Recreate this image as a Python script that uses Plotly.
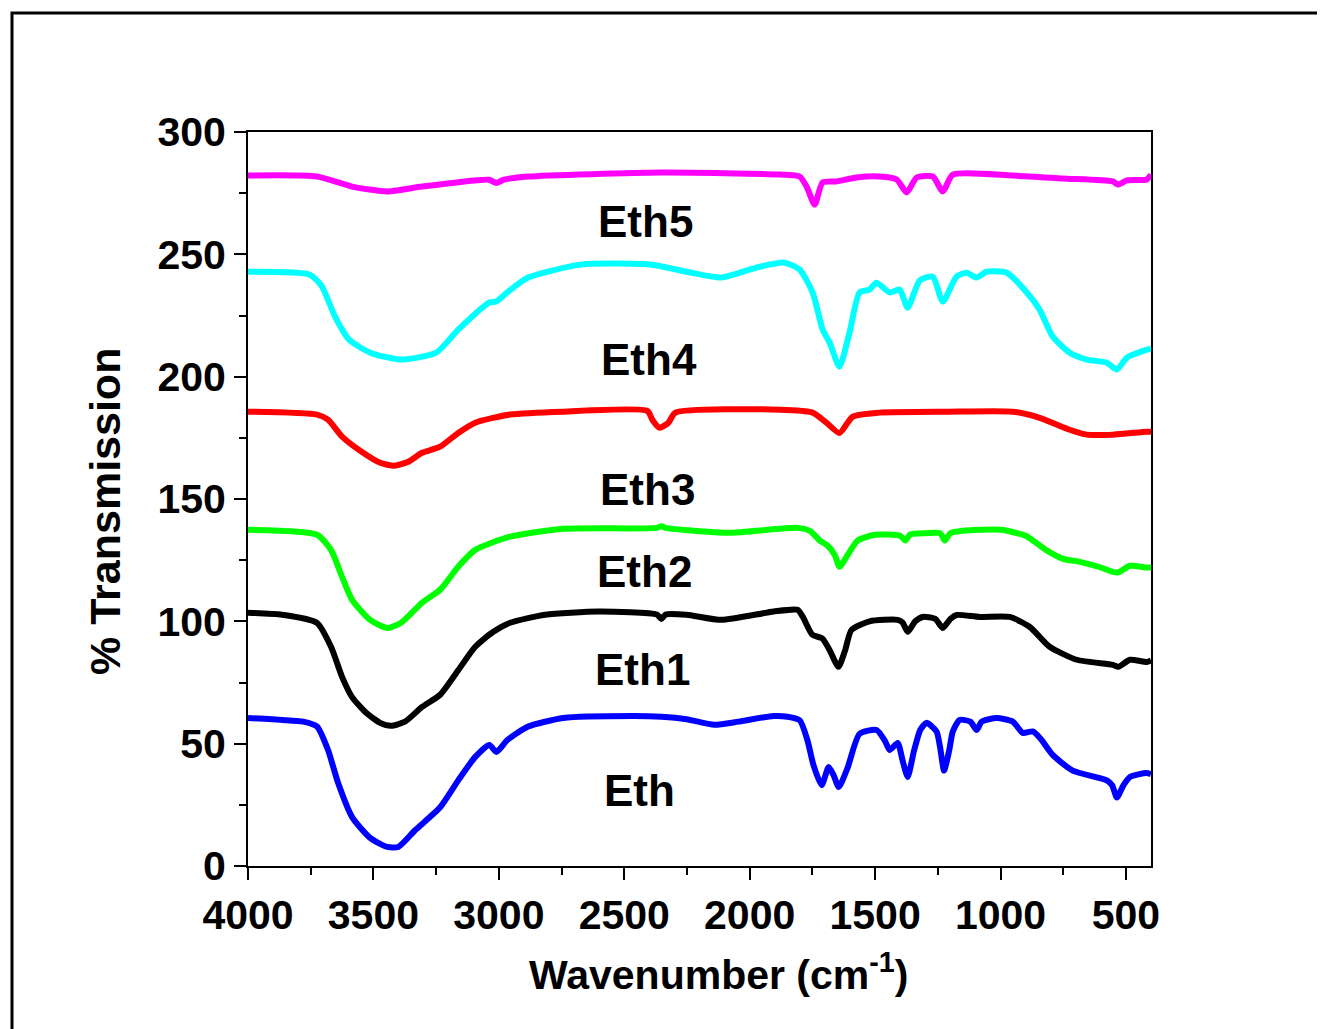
import plotly.graph_objects as go

# ---------------- data ----------------
wn_eth = [4000, 3864, 3780, 3725, 3681, 3641, 3585, 3513, 3445, 3401, 3333, 3234, 3162, 3094, 3038, 3010, 2966, 2883,
          2743, 2464, 2352, 2252, 2141, 2045, 1905, 1849, 1800, 1770, 1745, 1713, 1685, 1665, 1645, 1610, 1562, 1494,
          1460, 1442, 1410, 1390, 1370, 1345, 1320, 1295, 1255, 1240, 1225, 1205, 1190, 1163, 1120, 1095, 1075, 1015,
          951, 911, 871, 840, 792, 712, 576, 555, 536, 510, 484, 417, 400]
t_eth = [60.5, 59.7, 59, 57, 47.4, 34, 20, 11.5, 7.8, 7.8, 14.7, 24, 35, 44.6, 49.5, 46.6, 51.5, 57,
         60.5, 61.3, 61, 60, 57.7, 59, 61.3, 61, 59.5, 51.5, 41, 33, 40.5, 37, 32.3, 40, 54, 55.6,
         51, 47.4, 50.3, 43, 36.4, 47, 55.6, 58.5, 55, 48, 39, 47, 55, 59.7, 59, 55.6, 59, 60.5,
         59, 54.4, 55, 52, 45.4, 39, 35, 33, 28, 33, 36.4, 38, 37.5]

wn_eth1 = [4000, 3864, 3725, 3669, 3625, 3585, 3529, 3473, 3430, 3374, 3306, 3234, 3162, 3094, 3022, 2955, 2815, 2603,
           2370, 2352, 2335, 2252, 2113, 1905, 1809, 1789, 1750, 1710, 1680, 1646, 1620, 1594, 1522, 1410, 1390, 1370,
           1340, 1310, 1260, 1230, 1200, 1175, 1083, 963, 883, 804, 696, 552, 530, 484, 417, 400]
t_eth1 = [103.5, 102.7, 99.4, 89.6, 77.3, 69, 62.6, 58.5, 57.3, 59, 65, 70, 80, 89.6, 95.7, 99.4, 102.7, 104,
          102.8, 101, 102.8, 102.7, 100.6, 104, 104.7, 102, 94.5, 93, 88, 81.4, 88, 96.5, 100, 100.6, 99.5, 95.7,
          100, 101.8, 101, 97.3, 101, 102.6, 101.8, 101.8, 97.7, 89.6, 84.3, 82.2, 81.4, 84.3, 83.4, 84]

wn_eth2 = [4000, 3725, 3669, 3625, 3585, 3513, 3445, 3390, 3306, 3234, 3162, 3094, 2955, 2743, 2370, 2352, 2335, 2086,
           1809, 1760, 1720, 1690, 1660, 1642, 1610, 1570, 1500, 1400, 1380, 1360, 1300, 1240, 1222, 1200, 1150, 1000,
           900, 816, 750, 684, 600, 552, 530, 484, 417, 400]
t_eth2 = [137.4, 135.4, 129.2, 118.2, 108.8, 100.6, 97.3, 99.4, 107.6, 112.9, 122.3, 129.2, 134.6, 137.8, 138.2, 138.9,
          138.2, 136.2, 138.2, 137, 133, 131, 127, 122.3, 127, 133, 135.4, 135, 133, 135.5, 136, 136, 133, 136, 137,
          137.4, 135, 129, 125.5, 124.3, 122, 120.2, 120, 122.7, 122, 122]

wn_eth3 = [4000, 3725, 3681, 3625, 3541, 3473, 3417, 3361, 3306, 3234, 3162, 3094, 2955, 2743, 2408, 2388, 2360, 2324,
           2296, 1880, 1749, 1694, 1642, 1590, 1482, 1215, 951, 844, 724, 656, 552, 417, 400]
t_eth3 = [185.7, 184.5, 182.4, 175.5, 168.9, 164.8, 163.6, 165.2, 168.9, 171.4, 177, 181.2, 184.5, 185.7, 186, 182.4,
          179.1, 181.2, 185.3, 186.5, 185.3, 181.2, 177, 183.6, 185.3, 185.7, 185.7, 183.2, 178.3, 176.3, 176.3,
          177.5, 177.5]

wn_eth4 = [4000, 3753, 3705, 3653, 3597, 3513, 3390, 3250, 3162, 3038, 3010, 2960, 2883, 2675, 2396, 2252, 2113, 1973,
           1861, 1801, 1749, 1709, 1681, 1642, 1602, 1562, 1522, 1494, 1442, 1402, 1370, 1322, 1270, 1230, 1175, 1135,
           1095, 1055, 975, 895, 844, 792, 724, 656, 576, 536, 496, 417, 400]
t_eth4 = [242.9, 241.7, 236.8, 224.5, 215.1, 209.8, 207, 209.8, 219.2, 230.3, 230.7, 235, 240.5, 245.8, 245.8, 242.9,
          240.5, 244.6, 246.6, 243.8, 234.4, 219.2, 213.9, 204.1, 218, 234.4, 235.6, 238.4, 234.4, 235.6, 228.2,
          239.3, 240.9, 230.7, 240.9, 242.5, 240.5, 242.9, 242.5, 234.4, 227.4, 216.4, 209.8, 207, 205.7, 202.9,
          207.8, 211, 211.5]

wn_eth5 = [4000, 3725, 3585, 3445, 3306, 3094, 3040, 3010, 2980, 2883, 2352, 1881, 1801, 1773, 1741, 1709, 1654, 1574,
           1482, 1414, 1374, 1334, 1270, 1230, 1190, 951, 752, 552, 532, 496, 417, 400]
t_eth5 = [282.2, 281.8, 277.7, 275.7, 277.7, 280.2, 280.5, 279.2, 280.5, 281.8, 283.4, 282.6, 281.8, 277.7, 270.3,
          279.4, 279.8, 281.4, 281.8, 280.6, 275.3, 281.4, 281.8, 275.7, 282.6, 282.2, 281, 279.8, 278.5, 280.2,
          280.6, 282.6]

series_names = ["Eth", "Eth1", "Eth2", "Eth3", "Eth4", "Eth5"]
series_colors = ["#0000FF", "#000000", "#00FF00", "#FF0000", "#00FFFF", "#FF00FF"]
series_x = [wn_eth, wn_eth1, wn_eth2, wn_eth3, wn_eth4, wn_eth5]
series_y = [t_eth, t_eth1, t_eth2, t_eth3, t_eth4, t_eth5]

# label anchor positions (data coords)
label_x = [2440, 2428, 2420, 2408, 2400, 2416]
label_y = [31, 80.2, 120.2, 153.8, 207, 263.4]

x_ticks = [4000, 3500, 3000, 2500, 2000, 1500, 1000, 500]
y_ticks = [0, 50, 100, 150, 200, 250, 300]

FONT = "Liberation Sans, Arial, Helvetica, sans-serif"

fig = go.Figure()
for name, col, xs, ys in zip(series_names, series_colors, series_x, series_y):
    fig.add_trace(go.Scatter(x=xs, y=ys, mode="lines", name=name,
                             line=dict(color=col, width=6, shape="spline", smoothing=0.6),
                             showlegend=False))

for name, lx, ly in zip(series_names, label_x, label_y):
    fig.add_annotation(x=lx, y=ly, xref="x", yref="y", text=name, showarrow=False,
                       xanchor="center", yanchor="middle",
                       font=dict(family=FONT, size=44, color="black", weight="bold"))

# page offset (body margin) is 8px
OFF = 8
W, H = 1325 - OFF, 1029 - OFF
L, R, T, B = 248 - OFF, 1151 - OFF, 132 - OFF, 866 - OFF
pw, ph = R - L, B - T


def px(xp):
    return (xp - OFF - L) / pw


def py(yp):
    return (B - (yp - OFF)) / ph


axis_common = dict(showline=True, linecolor="black", linewidth=2, mirror=True,
                   ticks="outside", ticklen=12, tickwidth=2, tickcolor="black",
                   showgrid=False, zeroline=False,
                   tickfont=dict(family=FONT, size=41, color="black", weight="bold"))

fig.update_layout(
    width=W, height=H,
    margin=dict(l=L, r=W - R, t=T, b=H - B, pad=0),
    paper_bgcolor="white", plot_bgcolor="white",
    xaxis=dict(range=[4000, 400], tickvals=x_ticks, ticktext=[str(v) for v in x_ticks],
               minor=dict(dtick=250, tick0=0, ticklen=7, tickwidth=2, ticks="outside", tickcolor="black"),
               **axis_common),
    yaxis=dict(range=[0, 300], tickvals=y_ticks, ticktext=[str(v) for v in y_ticks],
               minor=dict(dtick=25, tick0=0, ticklen=7, tickwidth=2, ticks="outside", tickcolor="black"),
               **axis_common),
)

# axis titles
fig.add_annotation(x=px(718), y=py(972), xref="paper", yref="paper",
                   xanchor="center", yanchor="middle",
                   text="Wavenumber (cm<sup>-1</sup>)", showarrow=False,
                   font=dict(family=FONT, size=41, color="black", weight="bold"))
fig.add_annotation(x=px(105), y=py(512), xref="paper", yref="paper",
                   xanchor="center", yanchor="middle",
                   text="% Transmission", textangle=-90, showarrow=False,
                   font=dict(family=FONT, size=43, color="black", weight="bold"))

# outer frame of the figure
fig.add_shape(type="rect", xref="paper", yref="paper",
              x0=px(12), x1=px(1400), y0=py(1100), y1=py(13),
              line=dict(color="black", width=3), fillcolor="rgba(0,0,0,0)")

fig.write_html("out.html")
